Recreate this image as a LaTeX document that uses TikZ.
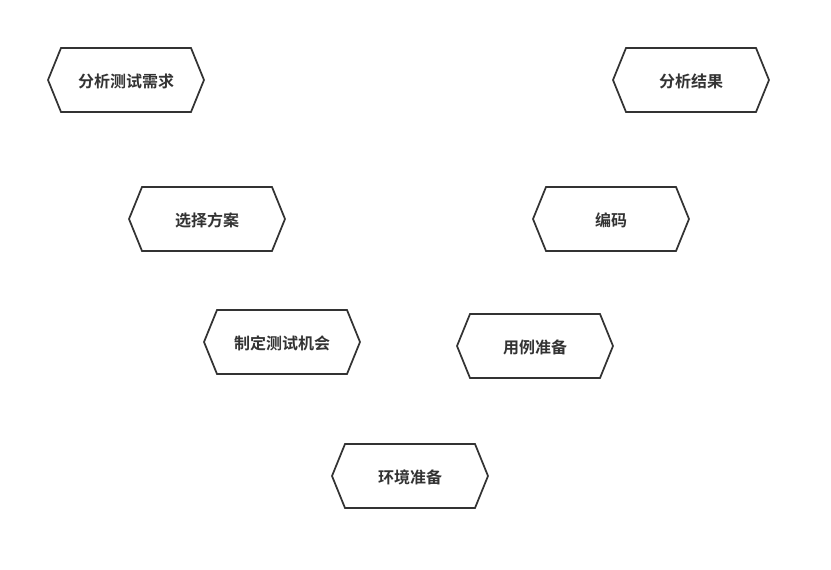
\documentclass[tikz,border=0pt]{standalone}
\usepackage{fontspec}
\newfontfamily\cjk{Noto Sans CJK SC}[BoldFont={Noto Sans CJK SC Bold}]
\definecolor{ink}{HTML}{333333}
\tikzset{
  hexlabel/.style={font=\cjk\bfseries\fontsize{12pt}{14pt}\selectfont, text=ink, inner sep=0pt},
  hexline/.style={draw=ink, line width=1.3pt, line join=miter}
}
\newcommand{\hexbox}[3]{%
  \node[hexlabel] (#1) at (#2) {#3};
  \draw[hexline] (#1.center) ++(-78,-1) -- ++(13,32) -- ++(130,0) -- ++(13,-32) -- ++(-13,-32) -- ++(-130,0) -- cycle;
}
\begin{document}
\begin{tikzpicture}[x=0.75pt,y=-0.75pt]
\useasboundingbox (0,0) rectangle (831,570);
\fill[white] (0,0) rectangle (831,570);
\hexbox{a}{126,81}{分析测试需求}
\hexbox{b}{691,81}{分析结果}
\hexbox{c}{207,220}{选择方案}
\hexbox{d}{611,220}{编码}
\hexbox{e}{282,343}{制定测试机会}
\hexbox{f}{535,347}{用例准备}
\hexbox{g}{410,477}{环境准备}
\end{tikzpicture}
\end{document}
